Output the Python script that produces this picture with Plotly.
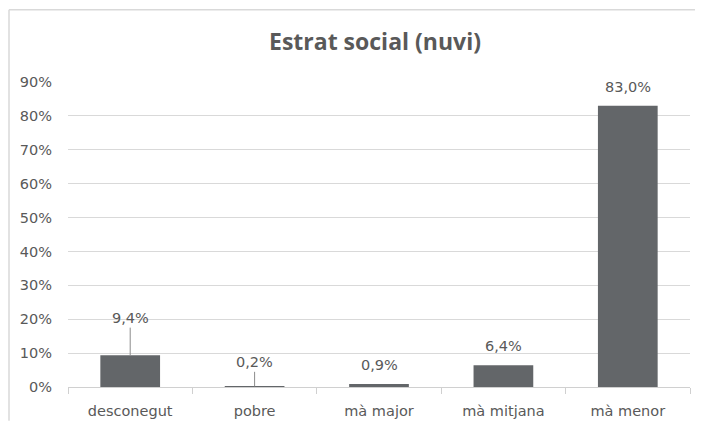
import plotly.graph_objects as go

categories = ["desconegut", "pobre", "mà major", "mà mitjana", "mà menor"]
values = [0.094, 0.002, 0.009, 0.064, 0.830]
leader_offsets = [-37, -24, 0, 0, 0]  # 0 = no leader line

labels = [f"{v*100:.1f}%".replace(".", ",") for v in values]

# the page body adds an 8px margin on each side, so the figure is drawn smaller
W, H = 687, 416
L, R, T, B = 60, 5, 74, 34
pw, ph = W - L - R, H - T - B

fig = go.Figure()
fig.add_trace(go.Bar(
    x=categories, y=values,
    marker=dict(color="#636669", line=dict(width=0)),
    hoverinfo="skip",
))

txt_font = dict(family="DejaVu Sans", size=14.5, color="#595959")
for c, v, lab, off in zip(categories, values, labels, leader_offsets):
    if off:
        fig.add_annotation(x=c, y=v, text=lab, showarrow=True, ax=0, ay=off,
                           arrowhead=0, arrowwidth=1, arrowcolor="#8c8c8c",
                           font=txt_font, standoff=0)
    else:
        fig.add_annotation(x=c, y=v, text=lab, showarrow=False, yanchor="middle",
                           yshift=19, font=txt_font)

# outer chart border: top and left edges
fig.add_shape(type="line", xref="paper", yref="paper",
              x0=(1 - L) / pw, x1=(W - L) / pw,
              y0=((H - B) - 1) / ph, y1=((H - B) - 1) / ph,
              line=dict(color="#d9d9d9", width=1.5), layer="below")
fig.add_shape(type="line", xref="paper", yref="paper",
              x0=(1 - L) / pw, x1=(1 - L) / pw,
              y0=((H - B) - 1) / ph, y1=-B / ph,
              line=dict(color="#d9d9d9", width=1.5), layer="below")

fig.update_layout(
    width=W, height=H,
    margin=dict(l=L, r=R, t=T, b=B),
    paper_bgcolor="white", plot_bgcolor="white",
    title=dict(text="<b>Estrat social (nuvi)</b>", x=367 / W, xanchor="center",
               y=1 - 34 / H, yanchor="middle",
               font=dict(family="Open Sans", size=23, color="#595959")),
    showlegend=False,
    bargap=0.52,
    xaxis=dict(type="category", showgrid=False, showline=True, linecolor="#d0d0d0",
               linewidth=1, ticks="outside", tickson="boundaries", ticklen=6,
               tickcolor="#d0d0d0", tickfont=txt_font, ticklabelstandoff=11,
               fixedrange=True),
    yaxis=dict(range=[0, 0.9], dtick=0.1, tickformat=".0%", showgrid=True,
               gridcolor="#d9d9d9", gridwidth=1, zeroline=False, showline=False,
               tickfont=txt_font, ticklabelstandoff=15, fixedrange=True),
)

fig.write_html("out.html", config={"displayModeBar": False})
